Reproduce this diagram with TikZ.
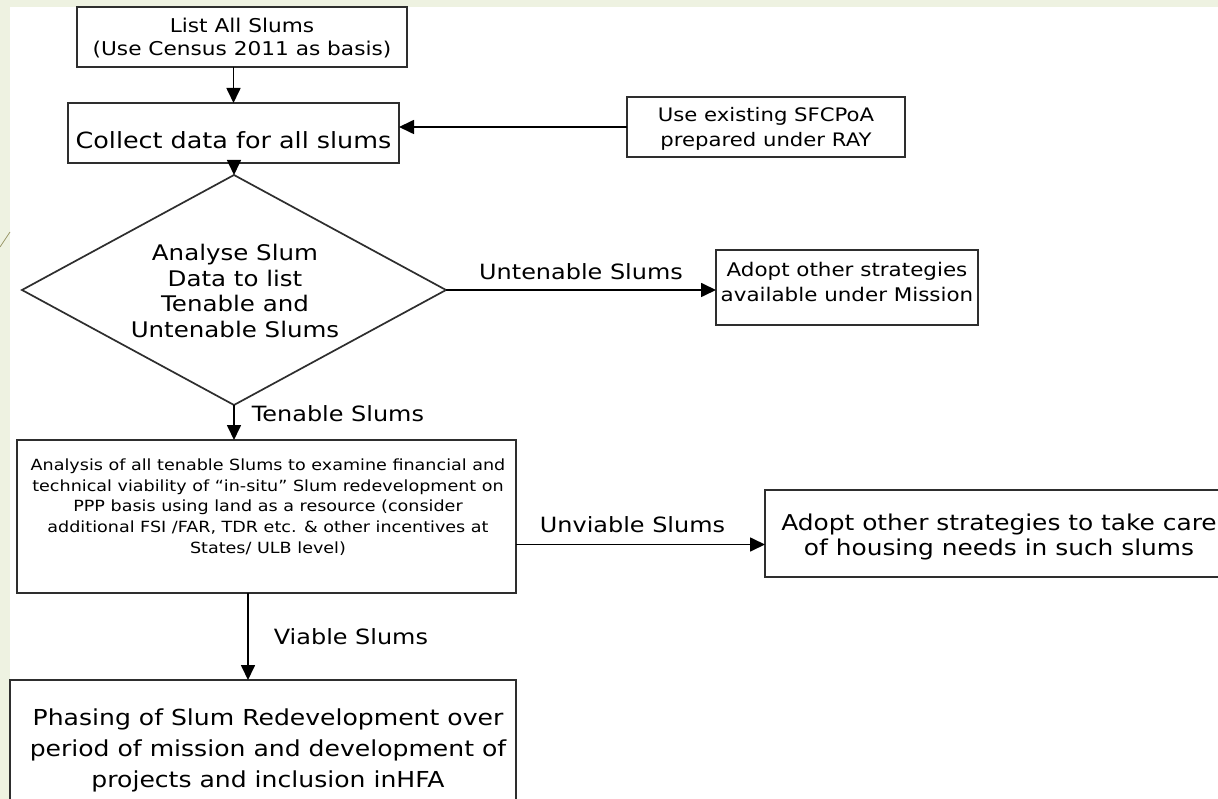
\documentclass[tikz,border=0pt]{standalone}
\usepackage{fontspec}
\setmainfont[FakeStretch=1.14]{DejaVu Sans}
\usetikzlibrary{arrows.meta,shapes.geometric}
\definecolor{pagegreen}{HTML}{EEF2E1}
\definecolor{edge}{HTML}{2E2E2E}
\definecolor{accent}{HTML}{9A9868}
\begin{document}
\begin{tikzpicture}[x=1pt,y=-1pt,
  stepbox/.style={draw=edge, line width=1.8pt, inner sep=0pt, outer sep=0pt, anchor=north west},
  decision/.style={diamond, draw=edge, line width=1.7pt, inner sep=0pt, outer sep=0pt},
  txt/.style={align=center, inner sep=0pt, text=black},
  lbl/.style={inner sep=0pt, text=black, font=\fontsize{21}{25}\selectfont},
  arr/.style={draw=black, line width=1.7pt, -{Triangle[length=15pt,width=14pt]}},
  big/.style={font=\fontsize{21.8}{25.5}\selectfont},
  small/.style={font=\fontsize{15.4}{20.8}\selectfont}]
\useasboundingbox (0,0) rectangle (1218,799);
\clip (0,0) rectangle (1218,799);
% page background
\fill[pagegreen] (0,0) rectangle (1218,799);
\fill[white] (10,7) rectangle (1218,799);
\draw[accent, line width=0.8pt] (0,247) -- (10,232);

% boxes
\node[stepbox, minimum width=330pt, minimum height=60pt] (list) at (77,7) {};
\node[stepbox, minimum width=331pt, minimum height=60pt] (collect) at (68,103) {};
\node[stepbox, minimum width=278pt, minimum height=60pt] (sfc) at (627,97) {};
\node[decision, minimum width=424pt, minimum height=230pt] (analyse) at (234,290) {};
\node[stepbox, minimum width=262pt, minimum height=75pt] (adoptA) at (716,250) {};
\node[stepbox, minimum width=499pt, minimum height=153pt] (study) at (17,440) {};
\node[stepbox, minimum width=470pt, minimum height=87pt] (adoptB) at (765,490) {};
\node[stepbox, minimum width=506pt, minimum height=140pt] (phase) at (10,680) {};

% box texts
\node[txt, font=\fontsize{19}{23.5}\selectfont] at (242,38) {List All Slums\\(Use Census 2011 as basis)};
\node[txt, font=\fontsize{22.3}{26}\selectfont] at (233.5,140) {Collect data for all slums};
\node[txt, font=\fontsize{18.6}{25}\selectfont] at (766,129) {Use existing SFCPoA\\prepared under RAY};
\node[txt, font=\fontsize{21.5}{25.5}\selectfont] at (235,291) {Analyse Slum\\Data to list\\Tenable and\\Untenable Slums};
\node[txt, font=\fontsize{18.8}{25.5}\selectfont] at (847,282) {Adopt other strategies\\available under Mission};
\node[txt, small] at (268,507) {Analysis of all tenable Slums to examine financial and\\
technical viability of “in-situ” Slum redevelopment on\\
PPP basis using land as a resource (consider\\
additional FSI /FAR, TDR etc. \& other incentives at\\
States/ ULB level)};
\node[txt, big] at (999,537) {Adopt other strategies to take care\\of housing needs in such slums};
\node[txt, font=\fontsize{22}{31}\selectfont] at (268,750) {Phasing of Slum Redevelopment over\\period of mission and development of\\projects and inclusion inHFA};

% connectors
\draw[arr] (collect.north |- list.south) -- (collect.north);
\draw[arr] (sfc.west) -- (sfc.west -| collect.east);
\draw[arr] (analyse.north |- collect.south) -- (analyse.north);
\draw[arr] (analyse.east) -- node[lbl, above=9pt] {Untenable Slums} (analyse.east -| adoptA.west);
\draw[arr] (analyse.south) -- node[lbl, anchor=west, pos=0.25, xshift=17pt] {Tenable Slums} (analyse.south |- study.north);
\draw[arr] ([yshift=-28pt]study.east) -- node[lbl, above=11pt, xshift=-8pt] {Unviable Slums} ([yshift=-28pt]study.east -| adoptB.west);
\draw[arr] ([xshift=-18.5pt]study.south) -- node[lbl, anchor=west, pos=0.5, xshift=25pt] {Viable Slums} ([xshift=-18.5pt]study.south |- phase.north);
\end{tikzpicture}
\end{document}
